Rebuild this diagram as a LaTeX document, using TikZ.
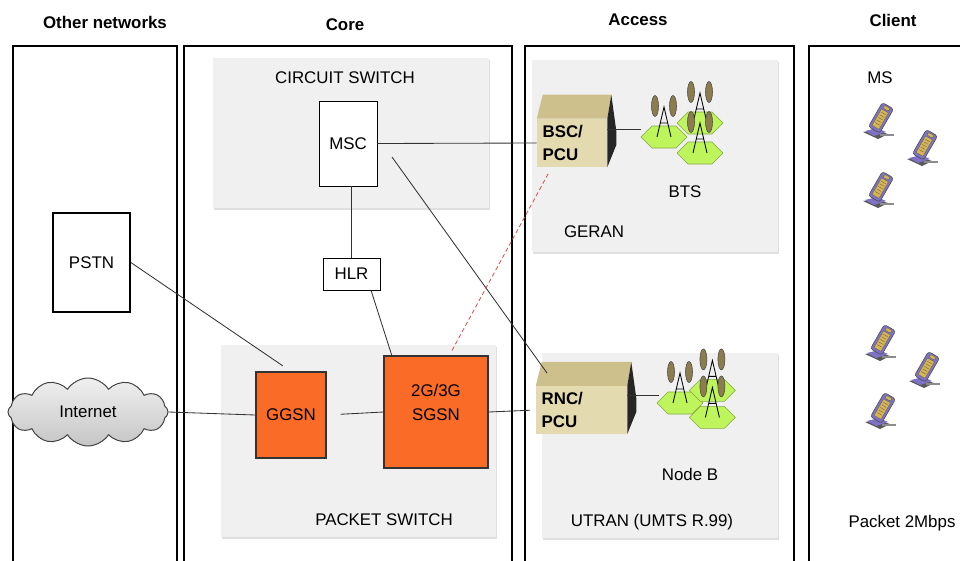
\documentclass[tikz,border=0pt]{standalone}
\usepackage{fontspec}
\setmainfont{Liberation Sans}
\usetikzlibrary{positioning, shapes.symbols, shadows}
\definecolor{panelgray}{HTML}{F0F0F0}
\definecolor{nodeorange}{HTML}{F96B27}
\definecolor{cabfront}{HTML}{E4DAB0}
\definecolor{cabtop}{HTML}{CDC08C}
\definecolor{cellgreen}{HTML}{BEF55C}
\definecolor{celledge}{HTML}{86A640}
\definecolor{mastbrown}{HTML}{8C7C4E}
\definecolor{phonepurple}{HTML}{7E72C4}
\definecolor{phonegold}{HTML}{D8B54E}
\definecolor{linkred}{HTML}{D9534F}
\tikzset{every node/.style={font=\fontsize{12}{17}\selectfont},header/.style={font=\fontsize{12}{17}\selectfont\bfseries},column/.style={draw,line width=1.6pt},panel/.style={fill=panelgray,inner sep=0pt,drop shadow={opacity=0.25,shadow xshift=0.6pt,shadow yshift=-1.2pt}},plainbox/.style={draw,fill=white,line width=0.6pt,inner sep=0pt,align=center},gsn/.style={draw=black!80,fill=nodeorange,line width=0.8pt,inner sep=0pt,drop shadow={opacity=0.2,shadow xshift=0.6pt,shadow yshift=-0.8pt}},cabinet/.style={fill=cabfront,inner sep=4pt,align=left,font=\fontsize{12}{17}\selectfont\bfseries},cloudnode/.style={cloud,cloud puffs=12,cloud puff arc=115,aspect=2.4,draw=black!75,line width=0.7pt,top color=gray!12,bottom color=gray!45,minimum width=4cm,minimum height=1.7cm,inner sep=0pt},link/.style={draw=black!80,line width=0.6pt},redlink/.style={draw=linkred,line width=0.6pt,dash pattern=on 3pt off 2pt}}
\tikzset{hexcell/.pic={\draw[fill=cellgreen,draw=celledge,line width=0.4pt] (-23,0) -- (-12,-11) -- (12,-11) -- (23,0) -- (12,11) -- (-12,11) -- cycle;},
mast/.pic={\draw[fill=mastbrown,draw=black!70,line width=0.4pt] (-9,-31) ellipse [x radius=3.5, y radius=10.5] (9,-31) ellipse [x radius=3.5, y radius=10.5];
\draw[line width=0.6pt] (-7,0) -- (0,-30) -- (7,0) (-3.5,-14) -- (3.5,-14);},
btsgroup/.pic={\path (0,0) pic{hexcell} (36,-14) pic{hexcell} (0,0) pic{mast} (36,-14) pic{mast} (36,16) pic{hexcell} (36,16) pic{mast};
\coordinate (-port) at (-23,-8);},
handset/.pic={\fill[black!65] (-15,9) -- (-3,7) -- (10,11) -- (0,16) -- cycle;
\draw[black!45,line width=0.8pt] (2,12) -- (16,12);
\fill[phonepurple] (-13,8) -- (-1,5) -- (8,9) -- (-4,13) -- cycle;
\begin{scope}[rotate=-30]
\draw[black!70,fill=phonepurple,rounded corners=2pt,line width=0.4pt] (-6.5,-20) rectangle (6.5,8);
\draw[black!60,fill=phonegold,line width=0.3pt] (-4,-14) rectangle (4,5);
\foreach \k in {-11,-8,-5,-2,1} \draw[black!60,line width=0.3pt] (-2.5,\k) -- (2.5,\k);
\draw[black!60,fill=phonegold,line width=0.3pt] (0,-17) ellipse [x radius=3.5, y radius=1.8];
\end{scope}}}
\begin{document}
\begin{tikzpicture}[x=0.025cm,y=-0.025cm]
\useasboundingbox (0,0) rectangle (960,560);
\node[header] (hother) at (105,22) {Other networks};
\node[header] (hcore) at (345,25) {Core};
\node[header] (haccess) at (638,20) {Access};
\node[header] (hclient) at (893,20) {Client};
\draw[column] (13,46) rectangle (177,575);
\draw[column] (184,46) rectangle (512,575);
\draw[column] (525,46) rectangle (794,575);
\draw[column] (809,46) rectangle (985,575);
\node[panel,minimum width=6.9cm,minimum height=3.75cm] (circuit) at (351,133) {};
\node[panel,minimum width=6.875cm,minimum height=4.8cm] (packet) at (358.5,441) {};
\node[panel,minimum width=6.15cm,minimum height=4.8cm] (geran) at (655,156) {};
\node[panel,minimum width=5.9cm,minimum height=4.625cm] (utran) at (660,445.5) {};
\node (circuitlbl) at (345,78) {CIRCUIT SWITCH};
\node (packetlbl) at (384,520) {PACKET SWITCH};
\node (geranlbl) at (594,232) {GERAN};
\node (utranlbl) at (652,522) {UTRAN (UMTS R.99)};
\node (btslbl) at (685,192) {BTS};
\node (nodeblbl) at (690,474) {Node B};
\node (mslbl) at (880,78) {MS};
\node (ratelbl) at (902,523) {Packet 2Mbps};
\node[plainbox,minimum width=1.45cm,minimum height=2.125cm] (msc) at (348,143.5) {MSC};
\node[plainbox,minimum width=1.425cm,minimum height=0.8cm] (hlr) at (351.5,274) {HLR};
\node[plainbox,line width=1.2pt,minimum width=1.925cm,minimum height=2.475cm] (pstn) at (91.5,262.5) {PSTN};
\node[cloudnode] (internet) at (88,412) {Internet};
\node[gsn,minimum width=1.75cm,minimum height=2.15cm] (ggsn) at (291,415) {GGSN};
\node[gsn,minimum width=2.6cm,minimum height=2.8cm] (sgsn) at (436,412) {};
\node[align=center] (sgsntext) at ([yshift=7pt]sgsn.center) {2G/3G\\SGSN};
\node[cabinet,text width=41.8pt,minimum height=1.2cm] (bsc) at (572,143) {BSC/\\PCU};
\node[cabinet,text width=56.7pt,minimum height=1.15cm] (rnc) at (581.5,410) {RNC/\\PCU};
\foreach \c in {bsc,rnc} {
\fill[cabtop] (\c.north west) -- ++(6,-24) -- ([shift={(4,-24)}]\c.north east) -- (\c.north east) -- cycle;
\fill[black!85] (\c.north east) -- ([shift={(4,-24)}]\c.north east) -- ([shift={(9,-12)}]\c.east) -- ([shift={(9,2)}]\c.east) -- (\c.south east) -- cycle;
}
\pic (bts) at (664,137) {btsgroup};
\pic[scale=0.9] (nodeb) at (680,403) {btsgroup};
\foreach \p in {(878,123),(922,150),(878,192),(880,345),(924,372),(880,413)} \pic at \p {handset};
\coordinate (mscout) at (392,157);
\coordinate (rnctop) at (547,373);
\draw[link] (msc.east) -- (bsc.west);
\draw[link] (mscout) -- (rnctop);
\draw[link] (hlr.north) -- (hlr.north |- msc.south);
\draw[link] (hlr.-40) -- (sgsn.128);
\draw[link,shorten >=7pt] (pstn.east) -- (ggsn.north);
\draw[link] (internet.east) -- (ggsn.west);
\draw[link,shorten <=10pt] (ggsn.east) -- (sgsn.west);
\draw[link,shorten >=4pt] (sgsn.east) -- (rnc.west);
\draw[link] (bts-port) -- (bts-port -| bsc.east);
\draw[link] (nodeb-port) -- (nodeb-port -| rnc.east);
\draw[redlink] ([shift={(16,-5)}]sgsn.north) -- ([shift={(-23,5)}]bsc.south);
\end{tikzpicture}
\end{document}
